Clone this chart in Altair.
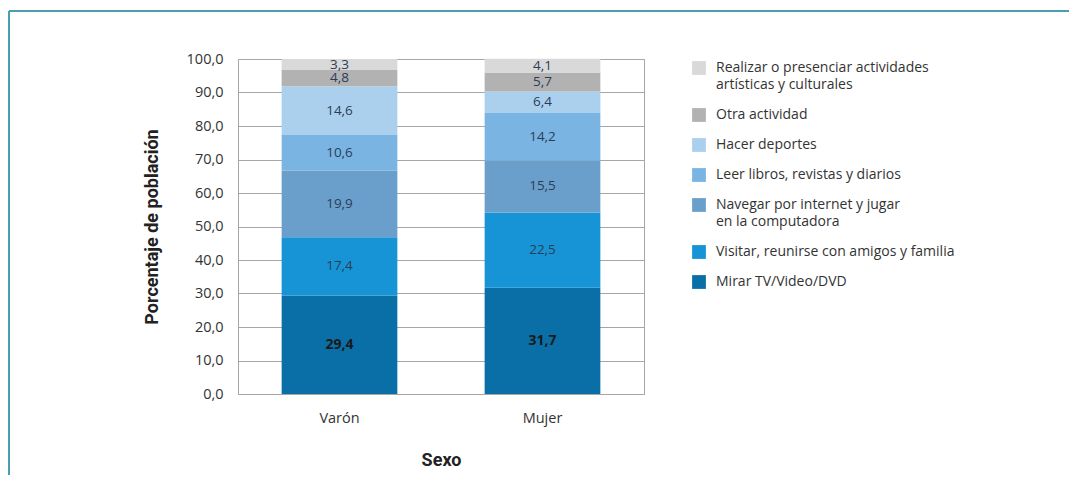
import altair as alt
import pandas as pd

categories = ["Varón", "Mujer"]
activities = [
    "Mirar TV/Video/DVD",
    "Visitar, reunirse con amigos y familia",
    "Navegar por internet y jugar en la computadora",
    "Leer libros, revistas y diarios",
    "Hacer deportes",
    "Otra actividad",
    "Realizar o presenciar actividades artísticas y culturales",
]
varon = [29.4, 17.4, 19.9, 10.6, 14.6, 4.8, 3.3]
mujer = [31.7, 22.5, 15.5, 14.2, 6.4, 5.7, 4.1]
colors = ["#0b6fa7", "#1794d5", "#6a9fcc", "#7ab4e2", "#abd0ee", "#b2b2b2", "#d9d9d9"]
y_ticks = [0, 10, 20, 30, 40, 50, 60, 70, 80, 90, 100]

rows = []
for sexo, vals in zip(categories, [varon, mujer]):
    for i, (act, v) in enumerate(zip(activities, vals)):
        rows.append({"sexo": sexo, "actividad": act, "idx": i, "valor": v})
df = pd.DataFrame(rows)

FONT = "Open Sans"
TFONT = "Roboto"

legend_expr = (
    "datum.label == 'Realizar o presenciar actividades artísticas y culturales' ? "
    "['Realizar o presenciar actividades', 'artísticas y culturales'] : "
    "datum.label == 'Navegar por internet y jugar en la computadora' ? "
    "['Navegar por internet y jugar', 'en la computadora'] : datum.label"
)

x_axis = alt.Axis(
    title="Sexo",
    labelAngle=0,
    labelFont=FONT,
    labelFontSize=14.5,
    labelColor="#333333",
    labelPadding=17,
    ticks=False,
    domain=False,
    titleFont=TFONT,
    titleFontSize=18,
    titleFontWeight="bold",
    titleColor="#222222",
    titlePadding=27,
)
y_axis = alt.Axis(
    title="Porcentaje de población",
    values=y_ticks,
    labelExpr="replace(format(datum.value, '.1f'), '.', ',')",
    labelOverlap=False,
    labelFont=FONT,
    labelFontSize=14.5,
    labelColor="#333333",
    labelPadding=15,
    ticks=False,
    domain=False,
    grid=True,
    gridColor="#a6a6a6",
    gridOpacity=1,
    titleFont=TFONT,
    titleFontSize=18,
    titleFontWeight="bold",
    titleColor="#222222",
    titlePadding=25,
)
x_scale = alt.Scale(paddingInner=0.43, paddingOuter=0.215)
y_scale = alt.Scale(domain=[0, 100], nice=False)

base = alt.Chart(df)

bars = base.mark_bar().encode(
    x=alt.X("sexo:N", sort=categories, scale=x_scale, axis=x_axis),
    y=alt.Y("valor:Q", stack="zero", scale=y_scale, axis=y_axis),
    color=alt.Color(
        "actividad:N",
        scale=alt.Scale(domain=list(reversed(activities)), range=list(reversed(colors))),
        legend=alt.Legend(
            title=None,
            orient="none",
            legendX=454,
            legendY=2,
            symbolType="square",
            symbolSize=190,
            symbolStrokeWidth=0,
            symbolOpacity=1,
            labelFont=FONT,
            labelFontSize=14,
            labelColor="#333333",
            labelLimit=400,
            labelOffset=10,
            rowPadding=16,
            labelExpr=legend_expr,
        ),
    ),
    order=alt.Order("idx:Q", sort="ascending"),
)

stacked = base.transform_stack(
    stack="valor", groupby=["sexo"], sort=[alt.SortField("idx", order="ascending")], as_=["y0", "y1"]
).transform_calculate(
    mid="(datum.y0 + datum.y1) / 2",
    lab="replace(format(datum.valor, '.1f'), '.', ',')",
)

labels_bottom = stacked.transform_filter("datum.idx == 0").mark_text(
    fontSize=14, fontWeight="bold", color="#1a1a1a", font=FONT
).encode(
    x=alt.X("sexo:N", sort=categories, scale=x_scale, axis=x_axis),
    y=alt.Y("mid:Q", scale=y_scale, axis=y_axis),
    text="lab:N",
)

labels_rest = stacked.transform_filter("datum.idx > 0").mark_text(
    fontSize=13.5, color="#2a3d57", font=FONT
).encode(
    x=alt.X("sexo:N", sort=categories, scale=x_scale, axis=x_axis),
    y=alt.Y("mid:Q", scale=y_scale, axis=y_axis),
    text="lab:N",
)

frame_data = alt.Data(values=[{"k": 1}])
frame_top = alt.Chart(frame_data).mark_rule(color="#4a9fae", strokeWidth=2).encode(
    x=alt.value(-229), x2=alt.value(831), y=alt.value(-48)
)
frame_left = alt.Chart(frame_data).mark_rule(color="#4a9fae", strokeWidth=2).encode(
    x=alt.value(-229), y=alt.value(-48), y2=alt.value(416)
)

chart = (
    alt.layer(bars, labels_rest, labels_bottom, frame_top, frame_left)
    .properties(
        width=406,
        height=335,
        autosize=alt.AutoSizeParams(type="none"),
        padding={"left": 230, "top": 51, "right": 425, "bottom": 81},
    )
    .configure(font=FONT, style={"guide-label": {"lineHeight": 17}})
    .configure_view(stroke="#a6a6a6", strokeWidth=1)
)

chart.save("out.html", embed_options={"renderer": "svg", "actions": False})
